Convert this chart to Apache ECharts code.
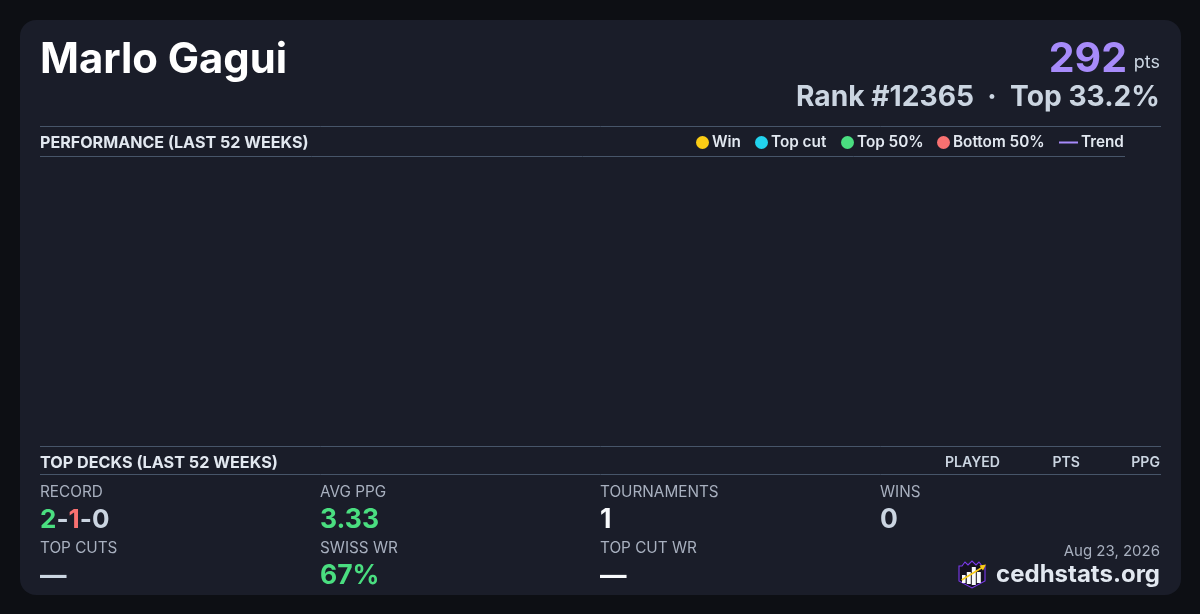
<!DOCTYPE html>
<html><head><meta charset="utf-8">
<style>html,body{margin:0;padding:0;background:#0d0f14}#c{width:1200px;height:614px}</style>
<script src="https://cdn.jsdelivr.net/npm/echarts@6/dist/echarts.min.js"></script>
</head><body><div id="c"></div>
<script>
const playerName = 'Marlo Gagui';
const points = '292';
const rankLine = 'Rank #12365  ·  Top 33.2%';
const legendNames = ['Win', 'Top cut', 'Top 50%', 'Bottom 50%', 'Trend'];
const legendColors = ['#facc15', '#22d3ee', '#4ade80', '#f87171', '#a78bfa'];
const legendLefts = [696, 755, 841, 937, 1059];
const weeks = [];
const winValues = [];
const topCutValues = [];
const top50Values = [];
const bottom50Values = [];
const trendValues = [];
const deckColumns = ['PLAYED', 'PTS', 'PPG'];
const deckColumnRight = [1000, 1080, 1160];
const statColumnsX = [40, 320, 600, 880];
const statsRow1 = [['RECORD', null], ['AVG PPG', '3.33'], ['TOURNAMENTS', '1'], ['WINS', '0']];
const statsRow2 = [['TOP CUTS', '—'], ['SWISS WR', '67%'], ['TOP CUT WR', '—']];
const row1Colors = [null, '#4ade80', '#f8fafc', '#cbd5e1'];
const row2Colors = ['#cbd5e1', '#4ade80', '#f8fafc'];

const F = 'Inter, sans-serif';
const line = '#475569';
const labelColor = '#a8b0bf';
const valueFont = '700 26.5px';
const recordFont = '700 26px';
const hr = (x1, x2, y) => ({type:'line', silent:true, shape:{x1, y1:y+.5, x2, y2:y+.5}, style:{stroke:line, lineWidth:1}});
const txt = (x, y, text, font, fill, align) => ({type:'text', silent:true, style:{x, y, text, font:font+' '+F, fill, align:align||'left', verticalAlign:'middle'}});
const bar = (x,y,w,h) => ({type:'rect', silent:true, shape:{x,y,width:w,height:h}, style:{fill:'#f8fafc'}});

const g = [
  {type:'rect', silent:true, shape:{x:20,y:20,width:1161,height:575,r:16}, style:{fill:'#1a1d29'}, z:-1},
  hr(40,1161,126), hr(40,1125,156), hr(40,1161,446), hr(40,1161,474),
  txt(40,60,playerName,'700 41.8px','#ffffff'),
  txt(1127,60,points,'700 41px','#a78bfa','right'),
  txt(1160,63,'pts','400 18px','#cbd5e1','right'),
  txt(1160,97.5,rankLine,'700 28.2px','#cbd5e1','right'),
  txt(40,143,'PERFORMANCE (LAST 52 WEEKS)','700 16.1px','#e2e8f0'),
  txt(40,463,'TOP DECKS (LAST 52 WEEKS)','700 16.2px','#e2e8f0'),
  txt(1160,551,'Aug 23, 2026','400 15px',labelColor,'right'),
  txt(1160,575,'cedhstats.org','700 24px','#e2e8f0','right'),
  {type:'text', silent:true, style:{x:40,y:520,verticalAlign:'middle',text:'{g|2}{m|-}{r|1}{m|-}{n|0}',
    rich:{g:{fill:'#4ade80',font:recordFont+' '+F},m:{fill:'#cbd5e1',font:recordFont+' '+F},r:{fill:'#f87171',font:recordFont+' '+F},n:{fill:'#cbd5e1',font:recordFont+' '+F}}}},
  {type:'polygon', silent:true, shape:{points:[[959,566],[962,566],[965,562],[968,565],[972,561],[976,565],[979,562],[982,566],[985,566],[985,581],[972,588],[959,581]]}, style:{fill:'#14121f',stroke:'#7c3aed',lineWidth:1.1}},
  bar(962,575,3.6,8), bar(966.8,572,4,12), bar(971.8,567,4,18), bar(976.8,572,4,11),
  {type:'line', silent:true, shape:{x1:961.7,y1:580,x2:983,y2:567}, style:{stroke:'#facc15',lineWidth:1.5}},
  {type:'polygon', silent:true, shape:{points:[[986,564.5],[979.5,565.5],[983,570.5]]}, style:{fill:'#facc15'}}
];
deckColumns.forEach((t,i)=>g.push(txt(deckColumnRight[i],463,t,'600 14.1px','#cbd5e1','right')));
statsRow1.forEach((s,i)=>{
  g.push(txt(statColumnsX[i],492.5,s[0],'400 15.3px',labelColor));
  if(s[1]) g.push(txt(statColumnsX[i],520,s[1],valueFont,row1Colors[i]));
});
statsRow2.forEach((s,i)=>{
  g.push(txt(statColumnsX[i],548.5,s[0],'400 15.3px',labelColor));
  g.push(txt(statColumnsX[i],576,s[1],valueFont,row2Colors[i]));
});

const values = [winValues, topCutValues, top50Values, bottom50Values, trendValues];
const series = legendNames.map((name,i)=>i<4
  ? {type:'bar', name, stack:'w', data:values[i], itemStyle:{color:legendColors[i]}}
  : {type:'line', name, data:values[i], showSymbol:false, lineStyle:{color:legendColors[i],width:2}, itemStyle:{color:legendColors[i]}});
const legends = legendNames.map((name,i)=>({
  show:true, left:legendLefts[i], top:135, padding:0, selectedMode:false,
  itemWidth:i<4?13:19, itemHeight:i<4?13:2, itemGap:0,
  data:[{name, icon:i<4?'circle':'rect'}],
  textStyle:{color:'#e2e8f0', fontFamily:'Inter', fontWeight:600, fontSize:15.3, padding:[0,0,0,-2]}
}));

const chart = echarts.init(document.getElementById('c'), null, {renderer:'canvas'});
chart.setOption({
  animation:false,
  backgroundColor:'#0d0f14',
  grid:{left:40, right:75, top:157, bottom:168},
  xAxis:{type:'category', data:weeks, show:false},
  yAxis:{type:'value', show:false},
  legend:legends,
  series,
  graphic:{elements:g}
});
</script></body></html>
